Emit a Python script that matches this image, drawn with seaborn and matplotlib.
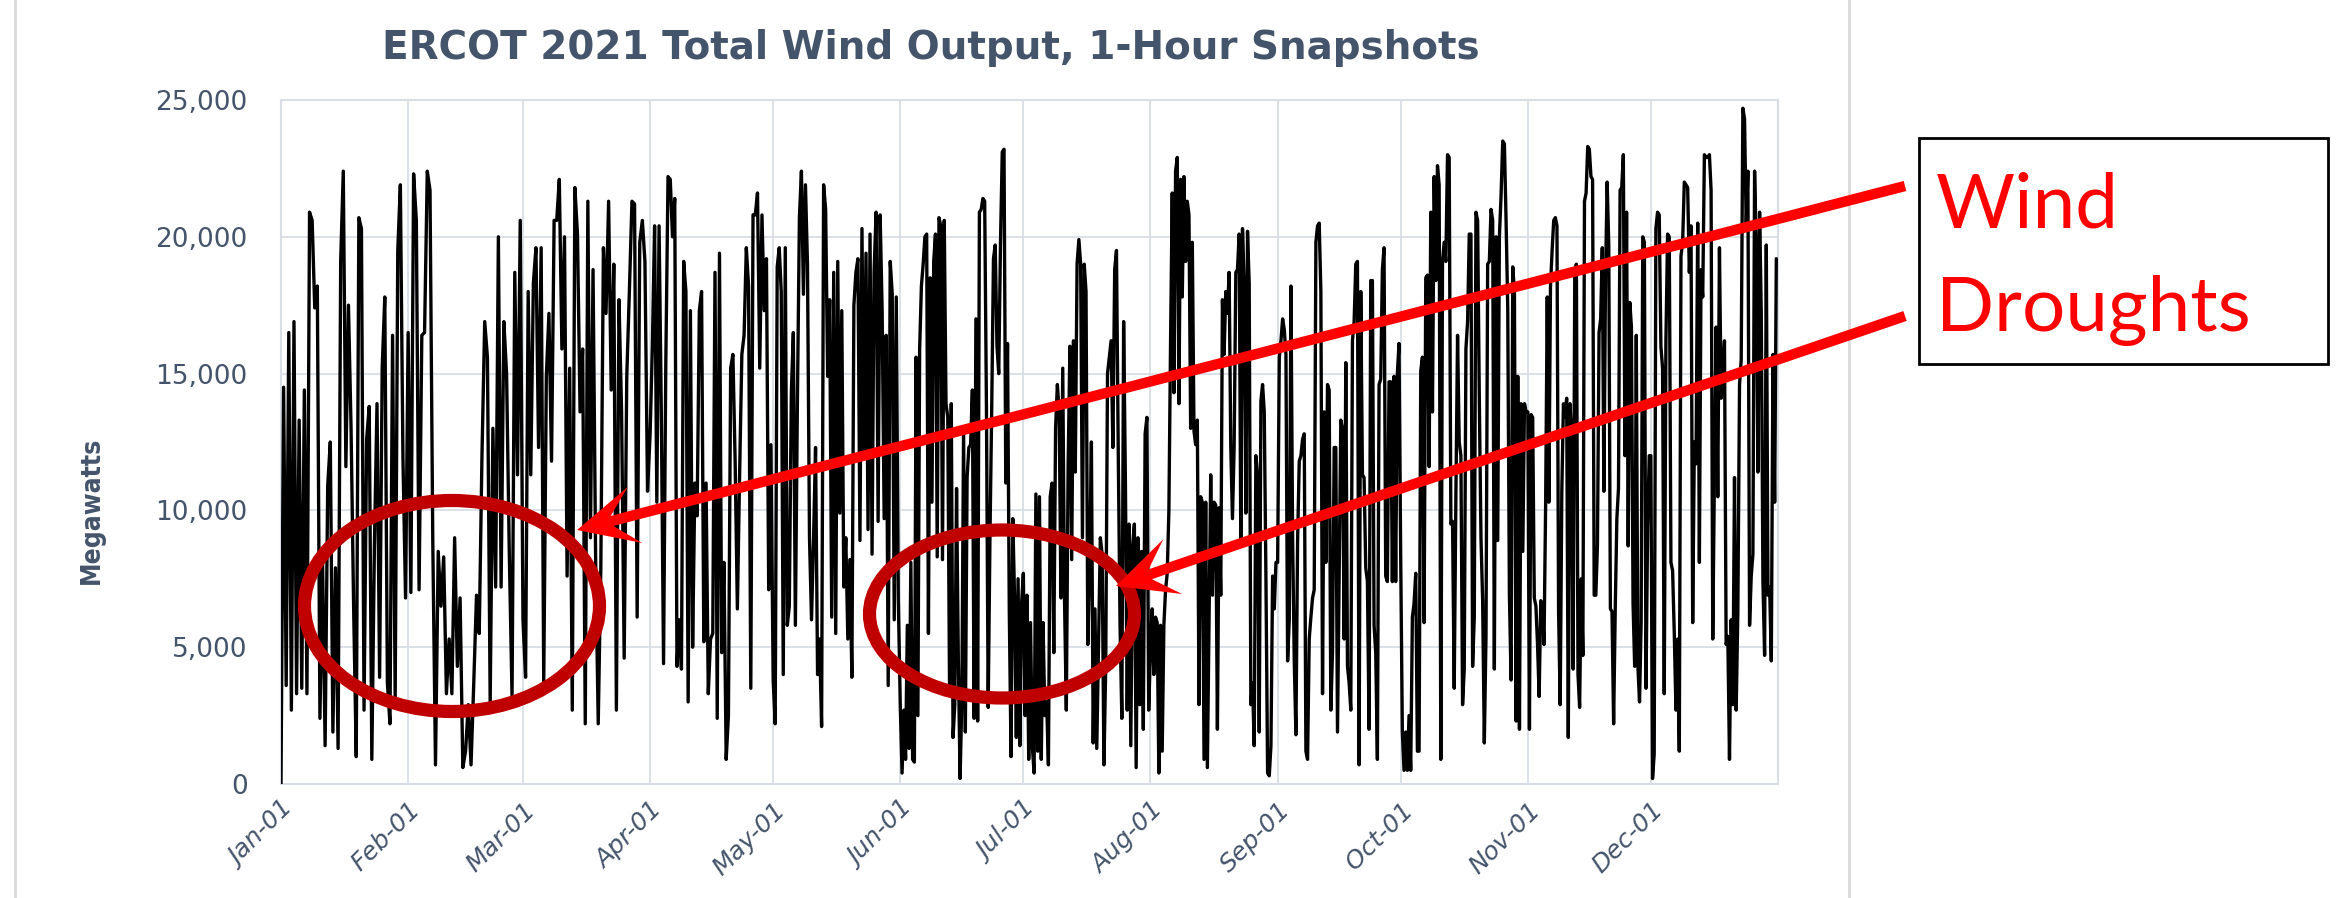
import numpy as np
import pandas as pd
import matplotlib
matplotlib.use("Agg")
import matplotlib.pyplot as plt
import matplotlib.dates as mdates
from matplotlib.patches import Ellipse, Rectangle, Polygon
from matplotlib import font_manager
import seaborn as sns

# Wind output, thousands of MW, month by month (in order)
jan = [0, 14.5, 3.6, 16.5, 2.7, 16.9, 3.3, 13.3, 3.5, 14.4, 3.3, 20.9, 20.6, 17.4, 18.2, 2.4,
       8.2, 1.4, 10.9, 12.5, 1.9, 7.9, 1.3, 19.1, 22.4, 11.6, 17.5, 13.0, 6.4, 1.0, 20.7, 20.3,
       2.7, 12.6, 13.8, 0.9, 8.7, 13.9, 3.9, 15.2, 17.8, 3.7, 2.2, 16.4, 3.1, 19.5, 21.9, 11.9, 6.8]
feb = [16.5, 7.0, 22.3, 20.6, 7.1, 16.4, 16.5, 22.4, 21.7, 9.0, 0.7, 8.5, 6.5, 8.3, 3.3, 5.3,
       3.3, 9.0, 4.3, 6.8, 0.6, 1.2, 2.9, 0.7, 3.7, 6.9, 5.5, 12.0, 16.9, 15.6, 3.0, 13.0, 7.2,
       20.0, 7.2, 16.9, 15.0, 8.4, 3.2, 18.7, 11.3, 20.6]
mar = [6.0, 3.9, 18.0, 11.3, 18.3, 19.6, 12.3, 19.6, 3.7, 14.9, 17.2, 11.8, 20.6, 20.6, 22.1,
       15.9, 20.0, 7.6, 15.2, 2.7, 21.8, 20.1, 13.6, 15.9, 2.2, 21.3, 9.0, 18.8, 8.2, 2.2, 7.9,
       19.6, 17.2, 21.3, 14.4, 19.0, 2.7, 17.7, 13.6, 4.6, 14.9, 18.0, 21.3, 21.2, 6.1, 19.8,
       20.6, 19.1, 10.7]
apr = [12.8, 16.0, 20.4, 10.3, 20.4, 13.6, 4.4, 15.3, 22.2, 22.1, 20.0, 21.4, 4.3, 6.0, 4.2,
       19.1, 18.0, 3.0, 17.3, 5.0, 11.0, 9.8, 17.3, 18.0, 5.2, 11.0, 3.3, 5.3, 5.5, 18.7, 2.4,
       19.4, 4.8, 8.1, 0.9, 2.5, 15.2, 15.7, 11.8, 6.4, 11.3, 15.7, 16.4, 19.6, 18.2, 3.5, 20.8,
       20.8, 21.6, 15.2, 20.8, 17.3, 19.2, 7.1, 12.4]
may = [3.8, 2.2, 18.9, 19.6, 18.0, 4.0, 19.6, 5.8, 6.5, 14.3, 16.5, 5.8, 13.9, 20.7, 22.4,
       17.9, 21.9, 19.0, 9.0, 6.0, 8.9, 12.3, 4.0, 5.3, 2.1, 21.9, 21.0, 14.9, 17.7, 6.1, 18.7,
       5.5, 19.1, 9.9, 17.3, 7.2, 9.0, 5.3, 8.2, 3.9, 17.5, 18.7, 19.2, 8.9, 20.3, 11.9, 19.4,
       9.3, 20.1, 8.4, 18.7, 20.9, 9.6, 20.8, 17.3, 9.7, 16.4, 3.6, 19.1, 17.9, 6.0, 17.8, 6.8]
jun = [2.8, 0.4, 2.7, 0.9, 5.8, 1.3, 8.1, 0.9, 0.8, 15.6, 2.5, 15.9, 18.2, 19.0, 20.0, 20.1,
       5.5, 18.5, 10.3, 19.1, 20.1, 8.3, 20.7, 20.4, 8.2, 20.6, 13.9, 13.4, 3.6, 13.9, 1.7, 2.9,
       10.8, 4.6, 0.2, 3.0, 13.0, 1.9, 11.2, 12.3, 12.4, 14.4, 2.4, 17.0, 2.3, 20.9, 21.0, 21.4,
       21.3, 13.8, 2.8, 9.0, 13.7, 19.2, 19.7, 16.0, 15.0, 19.8, 23.1, 23.2, 11.0, 16.1, 6.3,
       1.0, 9.7, 6.8, 1.7, 7.5, 1.4, 6.6]
jul = [7.7, 2.5, 6.9, 0.9, 5.9, 1.4, 0.4, 10.6, 1.2, 10.5, 0.9, 5.9, 2.5, 3.0, 0.7, 10.5, 11.0,
       4.8, 13.0, 14.6, 13.6, 6.8, 15.2, 6.7, 2.7, 11.6, 16.0, 8.2, 16.2, 11.4, 19.0, 19.9, 19.0,
       9.0, 19.0, 18.0, 5.1, 7.9, 12.5, 1.5, 6.4, 1.3, 5.1, 9.0, 8.4, 0.7, 4.3, 15.0, 15.6, 16.2,
       12.3, 18.8, 19.5, 12.1, 5.8, 2.4, 16.9, 11.0, 2.7, 9.5, 1.4, 8.7, 9.5, 0.6, 9.0, 2.9, 8.5,
       2.0, 12.8, 13.4, 2.7]
aug = [4.9, 6.4, 4.0, 6.1, 5.9, 0.4, 5.8, 1.2, 5.8, 7.1, 7.7, 10.0, 16.2, 21.6, 14.3, 22.4,
       22.9, 13.9, 22.1, 17.8, 22.2, 19.1, 21.3, 20.8, 13.0, 19.8, 12.9, 12.4, 13.3, 2.9, 10.5,
       10.3, 0.9, 10.3, 0.6, 6.1, 11.3, 6.9, 10.3, 10.2, 2.0, 10.1, 6.9, 17.7, 15.7, 18.0, 17.2,
       18.7, 12.3, 9.7, 12.3, 18.7, 18.8, 20.1, 8.7, 20.3, 18.2, 9.9, 20.2, 18.3, 2.9, 3.7, 1.4,
       12.0, 11.3, 1.9, 14.0, 14.6, 13.6, 7.6, 0.4, 0.3, 1.4, 7.6, 6.4, 8.1]
sep = [8.1, 15.6, 16.2, 17.0, 16.6, 15.7, 4.5, 6.0, 18.2, 9.0, 4.5, 1.8, 8.9, 11.8, 12.0, 12.6,
       12.8, 1.2, 0.9, 5.3, 6.1, 6.8, 7.1, 19.8, 20.4, 20.5, 18.0, 3.3, 13.6, 8.1, 14.6, 14.4,
       2.7, 4.8, 12.3, 12.3, 1.9, 7.7, 13.3, 13.0, 5.3, 15.4, 4.3, 3.7, 2.7, 16.2, 16.9, 19.0,
       19.1, 0.7, 18.0, 11.3, 11.2, 7.9, 7.4, 2.0, 18.4, 18.4, 5.8, 4.8, 0.9, 14.6, 14.8, 18.8,
       19.6, 7.6, 7.4, 14.7, 14.7, 7.4, 14.9, 7.4, 15.0, 16.1]
oct_ = [8.4, 1.9, 0.5, 1.9, 0.5, 2.5, 0.5, 6.1, 6.6, 7.7, 1.2, 1.2, 15.1, 15.6, 5.9, 18.5, 18.6,
        11.6, 20.9, 13.6, 22.2, 18.4, 22.6, 21.9, 0.9, 19.1, 19.8, 19.1, 23.0, 22.9, 9.5, 9.6,
        3.5, 10.5, 16.4, 12.5, 12.0, 2.9, 4.2, 15.9, 16.9, 20.1, 20.1, 4.3, 6.1, 20.9, 20.6,
        14.1, 9.0, 6.7, 1.5, 5.4, 19.0, 19.1, 21.0, 20.6, 4.2, 20.0, 8.9, 20.0, 21.5, 23.5,
        23.4, 20.6, 17.4, 6.9, 3.8, 18.9, 18.0, 2.3, 14.9, 2.0, 13.9, 8.5, 13.9, 13.6]
nov = [13.6, 2.0, 13.5, 13.4, 6.8, 6.5, 5.1, 3.2, 6.7, 6.5, 5.1, 10.2, 17.8, 10.3, 18.2, 19.5,
       20.6, 20.7, 20.4, 6.3, 2.9, 10.7, 13.9, 13.4, 14.1, 1.7, 13.9, 12.9, 4.2, 18.7, 19.0, 4.0,
       2.8, 7.5, 4.7, 21.3, 21.6, 23.3, 23.2, 22.2, 22.1, 6.9, 6.9, 8.7, 16.5, 17.0, 19.6, 10.7,
       18.5, 22.0, 19.7, 6.4, 6.3, 2.2, 6.4, 9.7, 10.8, 21.7, 21.8, 23.0, 12.0, 20.9, 8.7, 17.6,
       16.7, 6.6, 4.3, 16.4, 4.3, 3.0, 5.9, 20.0, 19.8, 3.5, 9.4, 12.0]
dec = [12.0, 0.2, 1.1, 20.3, 20.9, 20.8, 16.0, 15.2, 3.3, 16.2, 20.1, 20.0, 8.1, 7.8, 5.5, 2.7,
       5.3, 1.2, 19.3, 19.8, 22.0, 21.9, 21.8, 18.7, 20.4, 5.9, 12.5, 11.7, 20.5, 8.1, 18.8,
       17.8, 23.0, 22.9, 22.9, 23.0, 21.7, 5.3, 11.3, 16.7, 10.5, 19.6, 14.1, 15.0, 16.2, 5.1,
       5.4, 0.9, 6.0, 2.9, 11.2, 2.7, 6.3, 14.6, 15.5, 24.7, 24.3, 20.4, 22.4, 5.8, 7.6, 8.4,
       22.4, 19.7, 11.4, 20.9, 17.2, 7.4, 4.7, 19.7, 6.9, 7.2, 4.5, 15.7, 10.3, 19.2]

months = [jan, feb, mar, apr, may, jun, jul, aug, sep, oct_, nov, dec]
month_starts = pd.date_range("2021-01-01", periods=13, freq="MS")
y_ticks = [0, 5000, 10000, 15000, 20000, 25000]

W, H = 2338, 898
SLATE = "#44546A"
GRID = "#D9DEE6"

sns.set_theme(style="white")
plt.rcParams["font.family"] = ["DejaVu Sans"]

installed = {f.name for f in font_manager.fontManager.ttflist}
box_font = "Lato" if "Lato" in installed else "DejaVu Sans"

# spread each month's readings evenly across that month
parts = []
for i, vals in enumerate(months):
    pos = pd.date_range(month_starts[i], month_starts[i + 1], periods=len(vals) + 1)[:-1]
    parts.append(pd.DataFrame({"date": pos, "mw": np.array(vals) * 1000}))
df = pd.concat(parts, ignore_index=True)

fig = plt.figure(figsize=(W / 100, H / 100), dpi=100)
ax = fig.add_axes([281 / W, 1 - 784 / H, (1778 - 281) / W, (784 - 100) / H])

sns.lineplot(data=df, x="date", y="mw", color="black", lw=2.4,
             estimator=None, sort=False, ax=ax, zorder=3)

ax.set_xlim(month_starts[0], month_starts[-1])
ax.set_ylim(0, 25000)
ax.set_yticks(y_ticks)
ax.yaxis.set_major_formatter(matplotlib.ticker.FuncFormatter(lambda v, p: f"{v:,.0f}"))
ax.set_xticks(month_starts[:12])
ax.xaxis.set_major_formatter(mdates.DateFormatter("%b-%d"))
ax.set_xlabel("")
ax.set_ylabel("")

ax.grid(True, color=GRID, lw=1.3)
ax.set_axisbelow(True)
for s in ax.spines.values():
    s.set_color(GRID)
    s.set_linewidth(1.5)

ax.tick_params(axis="y", length=0, pad=24, labelsize=19, labelcolor=SLATE)
ax.tick_params(axis="x", length=0, pad=10, labelsize=18, labelcolor=SLATE)
for lab in ax.get_xticklabels():
    lab.set_rotation(45)
    lab.set_ha("right")
    lab.set_va("top")
    lab.set_rotation_mode("anchor")
    lab.set_fontstyle("italic")

fig.text(931 / W, 1 - 48 / H, "ERCOT 2021 Total Wind Output, 1-Hour Snapshots",
         ha="center", va="center", fontsize=28, fontweight="bold", color=SLATE)
fig.text(92 / W, 1 - 510 / H, "Megawatts", rotation=90, ha="center", va="center",
         fontsize=19, fontweight="bold", fontstretch="condensed", color=SLATE,
         family=["DejaVu Sans"])

# overlay in pixel coordinates for the annotations
ov = fig.add_axes([0, 0, 1, 1])
ov.set_xlim(0, W)
ov.set_ylim(H, 0)
ov.axis("off")
ov.patch.set_alpha(0)

# chart area border
ov.plot([15, 15], [0, H], color="#D9D9D9", lw=2)
ov.plot([1849, 1849], [0, H], color="#D9D9D9", lw=2)

# drought ellipses
ov.add_patch(Ellipse((452, 606), 295, 211, fill=False, ec="#C00000", lw=9.5))
ov.add_patch(Ellipse((1002, 614), 265, 168, fill=False, ec="#C00000", lw=9.5))


def arrow(tail, tip, head_len=60, half_w=29, notch=31):
    tail = np.array(tail, float)
    tip = np.array(tip, float)
    u = (tip - tail) / np.linalg.norm(tip - tail)
    n = np.array([-u[1], u[0]])
    shaft_end = tip - u * notch
    ov.plot([tail[0], shaft_end[0]], [tail[1], shaft_end[1]], color="#FF0000",
            lw=7.5, solid_capstyle="butt")
    head = [tip, tip - u * head_len + n * half_w, tip - u * notch, tip - u * head_len - n * half_w]
    ov.add_patch(Polygon(head, closed=True, color="#FF0000", lw=0))


arrow((1905, 186), (577, 530))
arrow((1905, 316), (1116, 586))

# label box
ov.add_patch(Rectangle((1919, 138), 409, 226, fill=False, ec="black", lw=2))
ov.text(1936, 228, "Wind", color="#FF0000", fontsize=55, va="baseline", ha="left",
        family=[box_font, "DejaVu Sans"])
ov.text(1936, 331, "Droughts", color="#FF0000", fontsize=55, va="baseline", ha="left",
        family=[box_font, "DejaVu Sans"])

fig.savefig("out.png", dpi=100, facecolor="white")
